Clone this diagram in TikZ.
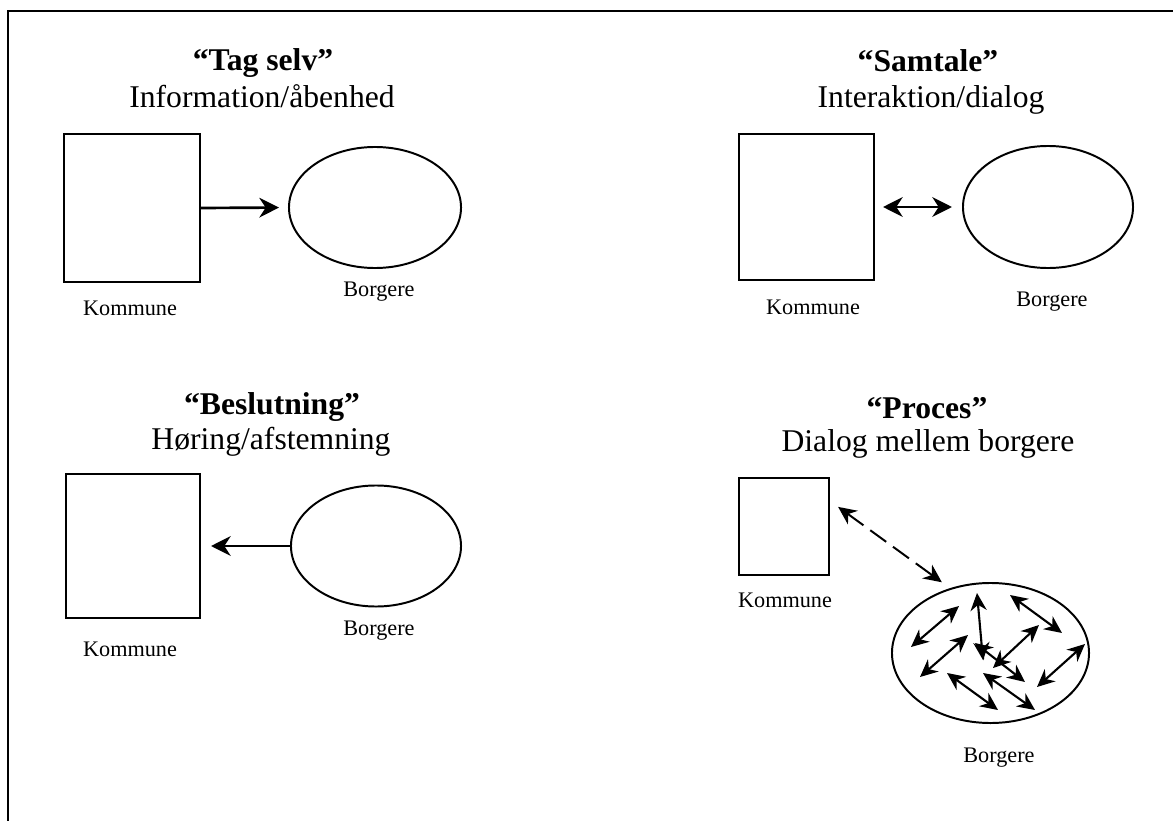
\documentclass[tikz,border=0pt]{standalone}
\usepackage{fontspec}
\setmainfont{Liberation Serif}
\usetikzlibrary{arrows.meta,shapes.geometric}

\tikzset{
  kommune/.style={draw,line width=1.4pt,inner sep=0pt},
  borgere/.style={draw,ellipse,line width=1.4pt,inner sep=0pt},
  overskrift/.style={anchor=base,font=\fontsize{22.5}{27}\selectfont\bfseries},
  undertekst/.style={anchor=base,font=\fontsize{22.5}{27}\selectfont},
  etiket/.style={anchor=base,font=\fontsize{15.8}{19}\selectfont},
  pil/.style={line width=1.9pt,-{Stealth[length=14pt,width=14pt]}},
  dobbeltpil/.style={line width=1.9pt,{Stealth[length=14pt,width=14pt]}-{Stealth[length=14pt,width=14pt]}},
  stiplet/.style={line width=1.4pt,dash pattern=on 14pt off 6pt,{Stealth[length=13pt,width=12pt]}-{Stealth[length=13pt,width=12pt]}},
  smaapil/.style={line width=1.5pt,{Stealth[length=12.5pt,width=11.5pt]}-{Stealth[length=12.5pt,width=11.5pt]}}
}

\begin{document}
\begin{tikzpicture}[x=0.025cm,y=-0.025cm]
    \useasboundingbox (0,0) rectangle (1173,821);
    \draw[line width=1.2pt] (8,821) |- (1173,11);

    % Tag selv
    \node[overskrift] (titel1) at (263,71) {``Tag selv''};
    \node[undertekst] (tekst1) at (262,108) {Information/åbenhed};
    \node[kommune,minimum width=3.4cm,minimum height=3.675cm] (kom1) at (132,208) {};
    \node[borgere,minimum width=4.3cm,minimum height=3.025cm] (borg1) at (375,207.5) {};
    \node[etiket] (kom1label) at (130,315) {Kommune};
    \node[etiket] (borg1label) at (379,296) {Borgere};
    \draw[pil,shorten >=0.225cm] (kom1.east) -- (borg1.west);

    % Samtale
    \node[overskrift] (titel2) at (928,72) {``Samtale''};
    \node[undertekst] (tekst2) at (931,108) {Interaktion/dialog};
    \node[kommune,minimum width=3.375cm,minimum height=3.65cm] (kom2) at (806.5,207) {};
    \node[borgere,minimum width=4.25cm,minimum height=3.05cm] (borg2) at (1048,207) {};
    \node[etiket] (kom2label) at (813,314) {Kommune};
    \node[etiket] (borg2label) at (1052,306) {Borgere};
    \draw[dobbeltpil,shorten <=0.2cm,shorten >=0.25cm] (kom2.east) -- (borg2.west);

    % Beslutning
    \node[overskrift] (titel3) at (272,414) {``Beslutning''};
    \node[undertekst] (tekst3) at (271,449) {Høring/afstemning};
    \node[kommune,minimum width=3.35cm,minimum height=3.6cm] (kom3) at (133,546) {};
    \node[borgere,minimum width=4.25cm,minimum height=3.025cm] (borg3) at (376,546) {};
    \node[etiket] (kom3label) at (130,656) {Kommune};
    \node[etiket] (borg3label) at (379,635) {Borgere};
    \draw[pil,shorten >=0.25cm] (borg3.west) -- (kom3.east);

    % Proces
    \node[overskrift] (titel4) at (927,418) {``Proces''};
    \node[undertekst] (tekst4) at (928,451) {Dialog mellem borgere};
    \node[kommune,minimum width=2.25cm,minimum height=2.425cm] (kom4) at (784,526.5) {};
    \node[borgere,minimum width=4.925cm,minimum height=3.5cm] (borg4) at (990.5,653) {};
    \node[etiket] (kom4label) at (785,607) {Kommune};
    \node[etiket] (borg4label) at (999,762) {Borgere};
    \draw[stiplet,shorten <=0.25cm,shorten >=0.25cm] (kom4.29.5) -- (borg4.122);
    \draw[smaapil] (911,647) -- (959,606);
    \draw[smaapil] (977,593) -- (983,660);
    \draw[smaapil] (1010,595) -- (1062,633);
    \draw[smaapil] (920,677) -- (968,635);
    \draw[smaapil] (975,643) -- (1025,682);
    \draw[smaapil] (993,668) -- (1039,625);
    \draw[smaapil] (1037,687) -- (1085,644);
    \draw[smaapil] (947,673) -- (998,710);
    \draw[smaapil] (983,673) -- (1035,710);
\end{tikzpicture}
\end{document}
